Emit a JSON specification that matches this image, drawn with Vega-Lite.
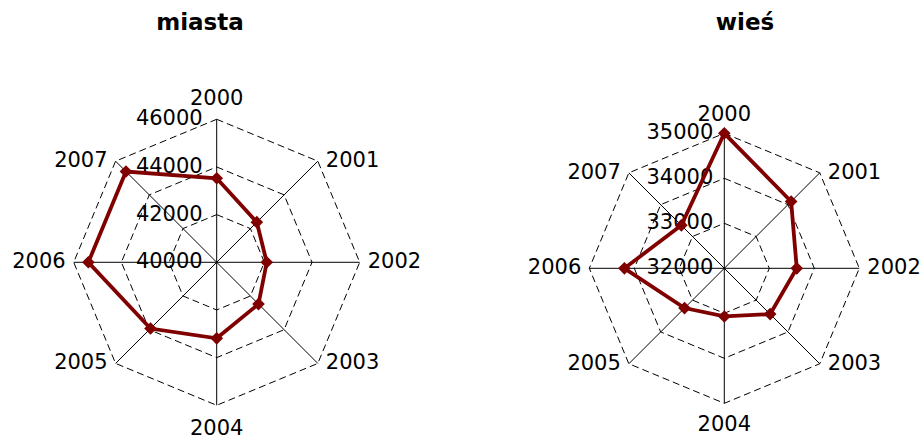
{
  "$schema": "https://vega.github.io/schema/vega-lite/v6.json",
  "autosize": {"type": "pad"},
  "padding": 0,
  "spacing": 0,
  "background": "white",
  "config": {"view": {"stroke": null}, "font": "DejaVu Sans", "text": {"font": "DejaVu Sans", "fontSize": 21, "color": "#000000"}},
  "datasets": {
    "rows": [
      {"chart": "miasta", "kind": "data", "year": 2000, "value": 43525},
      {"chart": "miasta", "kind": "data", "year": 2001, "value": 42380},
      {"chart": "miasta", "kind": "data", "year": 2002, "value": 42100},
      {"chart": "miasta", "kind": "data", "year": 2003, "value": 42480},
      {"chart": "miasta", "kind": "data", "year": 2004, "value": 43190},
      {"chart": "miasta", "kind": "data", "year": 2005, "value": 43930},
      {"chart": "miasta", "kind": "data", "year": 2006, "value": 45385},
      {"chart": "miasta", "kind": "data", "year": 2007, "value": 45385},
      {"chart": "wieś", "kind": "data", "year": 2000, "value": 35000},
      {"chart": "wieś", "kind": "data", "year": 2001, "value": 34100},
      {"chart": "wieś", "kind": "data", "year": 2002, "value": 33610},
      {"chart": "wieś", "kind": "data", "year": 2003, "value": 33440},
      {"chart": "wieś", "kind": "data", "year": 2004, "value": 33070},
      {"chart": "wieś", "kind": "data", "year": 2005, "value": 33250},
      {"chart": "wieś", "kind": "data", "year": 2006, "value": 34220},
      {"chart": "wieś", "kind": "data", "year": 2007, "value": 33350},
      {"chart": "miasta", "kind": "tick", "year": 2000, "value": 40000},
      {"chart": "miasta", "kind": "tick", "year": 2000, "value": 42000},
      {"chart": "miasta", "kind": "tick", "year": 2000, "value": 44000},
      {"chart": "miasta", "kind": "tick", "year": 2000, "value": 46000},
      {"chart": "wieś", "kind": "tick", "year": 2000, "value": 32000},
      {"chart": "wieś", "kind": "tick", "year": 2000, "value": 33000},
      {"chart": "wieś", "kind": "tick", "year": 2000, "value": 34000},
      {"chart": "wieś", "kind": "tick", "year": 2000, "value": 35000},
      {"chart": "miasta", "kind": "grid", "year": 2000, "value": 42000},
      {"chart": "miasta", "kind": "grid", "year": 2001, "value": 42000},
      {"chart": "miasta", "kind": "grid", "year": 2002, "value": 42000},
      {"chart": "miasta", "kind": "grid", "year": 2003, "value": 42000},
      {"chart": "miasta", "kind": "grid", "year": 2004, "value": 42000},
      {"chart": "miasta", "kind": "grid", "year": 2005, "value": 42000},
      {"chart": "miasta", "kind": "grid", "year": 2006, "value": 42000},
      {"chart": "miasta", "kind": "grid", "year": 2007, "value": 42000},
      {"chart": "miasta", "kind": "grid", "year": 2000, "value": 44000},
      {"chart": "miasta", "kind": "grid", "year": 2001, "value": 44000},
      {"chart": "miasta", "kind": "grid", "year": 2002, "value": 44000},
      {"chart": "miasta", "kind": "grid", "year": 2003, "value": 44000},
      {"chart": "miasta", "kind": "grid", "year": 2004, "value": 44000},
      {"chart": "miasta", "kind": "grid", "year": 2005, "value": 44000},
      {"chart": "miasta", "kind": "grid", "year": 2006, "value": 44000},
      {"chart": "miasta", "kind": "grid", "year": 2007, "value": 44000},
      {"chart": "miasta", "kind": "grid", "year": 2000, "value": 46000},
      {"chart": "miasta", "kind": "grid", "year": 2001, "value": 46000},
      {"chart": "miasta", "kind": "grid", "year": 2002, "value": 46000},
      {"chart": "miasta", "kind": "grid", "year": 2003, "value": 46000},
      {"chart": "miasta", "kind": "grid", "year": 2004, "value": 46000},
      {"chart": "miasta", "kind": "grid", "year": 2005, "value": 46000},
      {"chart": "miasta", "kind": "grid", "year": 2006, "value": 46000},
      {"chart": "miasta", "kind": "grid", "year": 2007, "value": 46000},
      {"chart": "wieś", "kind": "grid", "year": 2000, "value": 33000},
      {"chart": "wieś", "kind": "grid", "year": 2001, "value": 33000},
      {"chart": "wieś", "kind": "grid", "year": 2002, "value": 33000},
      {"chart": "wieś", "kind": "grid", "year": 2003, "value": 33000},
      {"chart": "wieś", "kind": "grid", "year": 2004, "value": 33000},
      {"chart": "wieś", "kind": "grid", "year": 2005, "value": 33000},
      {"chart": "wieś", "kind": "grid", "year": 2006, "value": 33000},
      {"chart": "wieś", "kind": "grid", "year": 2007, "value": 33000},
      {"chart": "wieś", "kind": "grid", "year": 2000, "value": 34000},
      {"chart": "wieś", "kind": "grid", "year": 2001, "value": 34000},
      {"chart": "wieś", "kind": "grid", "year": 2002, "value": 34000},
      {"chart": "wieś", "kind": "grid", "year": 2003, "value": 34000},
      {"chart": "wieś", "kind": "grid", "year": 2004, "value": 34000},
      {"chart": "wieś", "kind": "grid", "year": 2005, "value": 34000},
      {"chart": "wieś", "kind": "grid", "year": 2006, "value": 34000},
      {"chart": "wieś", "kind": "grid", "year": 2007, "value": 34000},
      {"chart": "wieś", "kind": "grid", "year": 2000, "value": 35000},
      {"chart": "wieś", "kind": "grid", "year": 2001, "value": 35000},
      {"chart": "wieś", "kind": "grid", "year": 2002, "value": 35000},
      {"chart": "wieś", "kind": "grid", "year": 2003, "value": 35000},
      {"chart": "wieś", "kind": "grid", "year": 2004, "value": 35000},
      {"chart": "wieś", "kind": "grid", "year": 2005, "value": 35000},
      {"chart": "wieś", "kind": "grid", "year": 2006, "value": 35000},
      {"chart": "wieś", "kind": "grid", "year": 2007, "value": 35000}
    ]
  },
  "hconcat": [
    {
      "width": 461,
      "height": 436,
      "title": {"text": "miasta", "frame": "group", "anchor": "middle", "orient": "top", "offset": -53.4, "baseline": "alphabetic", "dx": -30.5, "fontSize": 23, "fontWeight": "bold", "font": "DejaVu Sans", "color": "#000000"},
      "data": {"name": "rows"},
      "transform": [
        {"filter": "datum.chart == 'miasta'"},
        {"calculate": "(datum.year - 2000) * PI / 4", "as": "a"},
        {"calculate": "(datum.value - 40000) / 6000", "as": "r"},
        {"calculate": "datum.r * sin(datum.a)", "as": "x"},
        {"calculate": "datum.r * cos(datum.a)", "as": "y"}
      ],
      "encoding": {
        "x": {"field": "x", "type": "quantitative", "scale": {"domain": [-1.5154, 1.7084], "nice": false, "zero": false}, "axis": null},
        "y": {"field": "y", "type": "quantitative", "scale": {"domain": [-1.2147, 1.834], "nice": false, "zero": false}, "axis": null}
      },
      "layer": [
        {
          "transform": [{"filter": "datum.kind == 'grid'"}],
          "mark": {"type": "line", "interpolate": "linear-closed", "stroke": "#000000", "strokeWidth": 1, "strokeDash": [7, 4]},
          "encoding": {"detail": {"field": "value", "type": "nominal"}, "order": {"field": "year", "type": "quantitative"}}
        },
        {
          "transform": [{"filter": "datum.kind == 'grid' && datum.value == 46000"}],
          "mark": {"type": "rule", "stroke": "#000000", "strokeWidth": 1},
          "encoding": {"x2": {"datum": 0}, "y2": {"datum": 0}}
        },
        {
          "transform": [{"filter": "datum.kind == 'tick'"}],
          "mark": {"type": "text", "align": "right", "baseline": "middle", "dx": -14},
          "encoding": {"text": {"field": "value", "type": "quantitative", "format": "d"}}
        },
        {
          "transform": [{"filter": "datum.kind == 'grid' && datum.value == 46000 && datum.year >= 2001 && datum.year <= 2003"}],
          "mark": {"type": "text", "align": "left", "baseline": "middle", "dx": 8},
          "encoding": {"text": {"field": "year", "type": "nominal"}}
        },
        {
          "transform": [{"filter": "datum.kind == 'grid' && datum.value == 46000 && datum.year >= 2005"}],
          "mark": {"type": "text", "align": "right", "baseline": "middle", "dx": -8},
          "encoding": {"text": {"field": "year", "type": "nominal"}}
        },
        {
          "transform": [{"filter": "datum.kind == 'grid' && datum.value == 46000 && datum.year == 2000"}],
          "mark": {"type": "text", "align": "center", "baseline": "alphabetic", "dy": -14},
          "encoding": {"text": {"field": "year", "type": "nominal"}}
        },
        {
          "transform": [{"filter": "datum.kind == 'grid' && datum.value == 46000 && datum.year == 2004"}],
          "mark": {"type": "text", "align": "center", "baseline": "alphabetic", "dy": 30},
          "encoding": {"text": {"field": "year", "type": "nominal"}}
        },
        {
          "transform": [{"filter": "datum.kind == 'data'"}],
          "mark": {"type": "line", "interpolate": "linear-closed", "stroke": "#800000", "strokeWidth": 3.8},
          "encoding": {"order": {"field": "year", "type": "quantitative"}}
        },
        {
          "transform": [{"filter": "datum.kind == 'data'"}],
          "mark": {"type": "point", "shape": "diamond", "filled": true, "size": 160, "color": "#800000", "opacity": 1},
          "encoding": {}
        }
      ]
    },
    {
      "width": 461,
      "height": 436,
      "title": {"text": "wieś", "frame": "group", "anchor": "middle", "orient": "top", "offset": -53.4, "baseline": "alphabetic", "dx": 53.5, "fontSize": 23, "fontWeight": "bold", "font": "DejaVu Sans", "color": "#000000"},
      "data": {"name": "rows"},
      "transform": [
        {"filter": "datum.chart == 'wieś'"},
        {"calculate": "(datum.year - 2000) * PI / 4", "as": "a"},
        {"calculate": "(datum.value - 32000) / 3000", "as": "r"},
        {"calculate": "datum.r * sin(datum.a)", "as": "x"},
        {"calculate": "datum.r * cos(datum.a)", "as": "y"}
      ],
      "encoding": {
        "x": {"field": "x", "type": "quantitative", "scale": {"domain": [-1.9504, 1.4644], "nice": false, "zero": false}, "axis": null},
        "y": {"field": "y", "type": "quantitative", "scale": {"domain": [-1.2422, 1.9874], "nice": false, "zero": false}, "axis": null}
      },
      "layer": [
        {
          "transform": [{"filter": "datum.kind == 'grid'"}],
          "mark": {"type": "line", "interpolate": "linear-closed", "stroke": "#000000", "strokeWidth": 1, "strokeDash": [7, 4]},
          "encoding": {"detail": {"field": "value", "type": "nominal"}, "order": {"field": "year", "type": "quantitative"}}
        },
        {
          "transform": [{"filter": "datum.kind == 'grid' && datum.value == 35000"}],
          "mark": {"type": "rule", "stroke": "#000000", "strokeWidth": 1},
          "encoding": {"x2": {"datum": 0}, "y2": {"datum": 0}}
        },
        {
          "transform": [{"filter": "datum.kind == 'tick'"}],
          "mark": {"type": "text", "align": "right", "baseline": "middle", "dx": -11},
          "encoding": {"text": {"field": "value", "type": "quantitative", "format": "d"}}
        },
        {
          "transform": [{"filter": "datum.kind == 'grid' && datum.value == 35000 && datum.year >= 2001 && datum.year <= 2003"}],
          "mark": {"type": "text", "align": "left", "baseline": "middle", "dx": 8},
          "encoding": {"text": {"field": "year", "type": "nominal"}}
        },
        {
          "transform": [{"filter": "datum.kind == 'grid' && datum.value == 35000 && datum.year >= 2005"}],
          "mark": {"type": "text", "align": "right", "baseline": "middle", "dx": -8},
          "encoding": {"text": {"field": "year", "type": "nominal"}}
        },
        {
          "transform": [{"filter": "datum.kind == 'grid' && datum.value == 35000 && datum.year == 2000"}],
          "mark": {"type": "text", "align": "center", "baseline": "alphabetic", "dy": -12},
          "encoding": {"text": {"field": "year", "type": "nominal"}}
        },
        {
          "transform": [{"filter": "datum.kind == 'grid' && datum.value == 35000 && datum.year == 2004"}],
          "mark": {"type": "text", "align": "center", "baseline": "alphabetic", "dy": 28},
          "encoding": {"text": {"field": "year", "type": "nominal"}}
        },
        {
          "transform": [{"filter": "datum.kind == 'data'"}],
          "mark": {"type": "line", "interpolate": "linear-closed", "stroke": "#800000", "strokeWidth": 3.8},
          "encoding": {"order": {"field": "year", "type": "quantitative"}}
        },
        {
          "transform": [{"filter": "datum.kind == 'data'"}],
          "mark": {"type": "point", "shape": "diamond", "filled": true, "size": 160, "color": "#800000", "opacity": 1},
          "encoding": {}
        }
      ]
    }
  ]
}
